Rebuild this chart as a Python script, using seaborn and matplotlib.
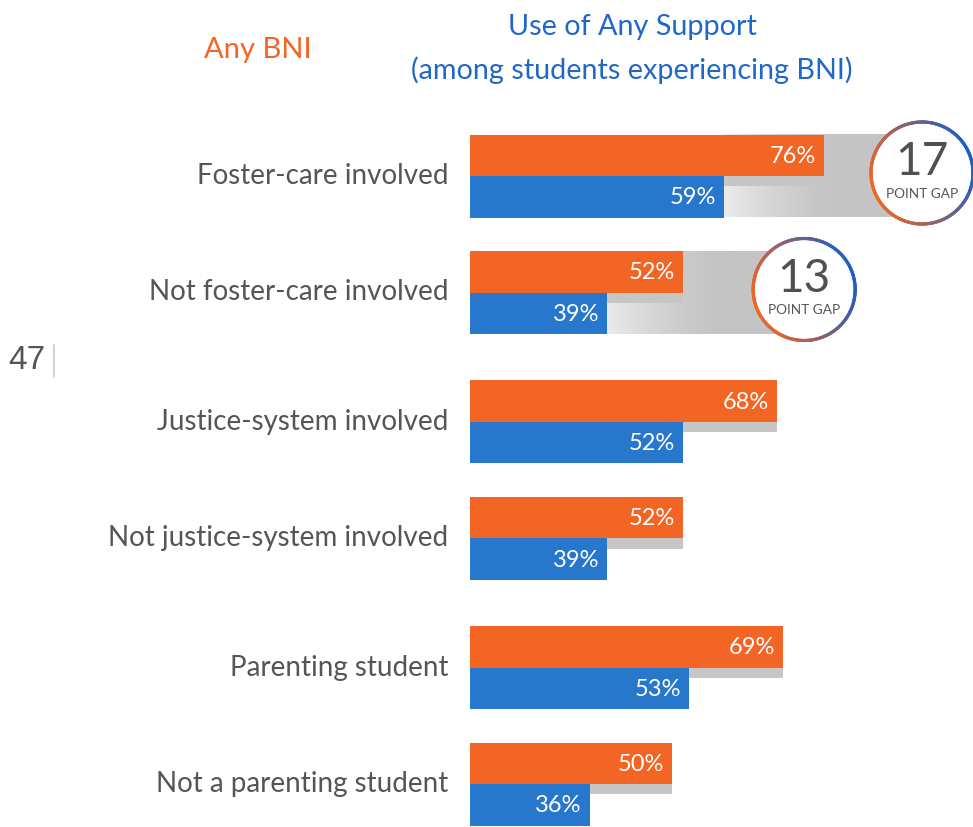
import numpy as np
import pandas as pd
import matplotlib
matplotlib.use("Agg")
import matplotlib.pyplot as plt
from matplotlib.collections import LineCollection
from matplotlib.colors import to_rgb
import seaborn as sns

# ---- data -------------------------------------------------------------
categories = [
    "Foster-care involved",
    "Not foster-care involved",
    "Justice-system involved",
    "Not justice-system involved",
    "Parenting student",
    "Not a parenting student",
]
any_bni = [76, 52, 68, 52, 69, 50]
any_support = [59, 39, 52, 39, 53, 36]
series_names = ["Any BNI", "Use of Any Support"]
gap_rows = [0, 1]

# ---- style / layout ---------------------------------------------------
ORANGE = "#f26524"
BLUE = "#2777cc"
TITLE_BLUE = "#1f68c9"
TEXT_GRAY = "#555555"
SHADOW_GRAY = "#c6c6c6"
BAND_LIGHT = np.array(to_rgb("#ebebeb"))
BAND_DARK = np.array(to_rgb("#c4c4c4"))

W, H = 973, 827
ROW_PX = 116.5                 # pixels per row unit
BAR_H = 41.5 / ROW_PX          # height of one bar in row units
SHADOW_SHIFT = 10.3 / ROW_PX   # drop of the grey shadow under orange bars
circle_x = [92.7, 72.6]        # callout centres (value axis)
CIRCLE_R = 51                  # px

sns.set_theme(style="white")
plt.rcParams["font.family"] = ["Lato", "DejaVu Sans"]

# rows come in pairs, with a little extra space between pairs
idx = np.arange(len(categories))
pos = idx + (idx // 2) * 0.11

df = pd.DataFrame({
    "pos": np.tile(pos, 2),
    "value": any_bni + any_support,
    "series": np.repeat(series_names, len(categories)),
})

fig = plt.figure(figsize=(W / 100, H / 100), dpi=100)
ax = fig.add_axes([470 / W, 0, 1 - 470 / W, 1])

x_lo, x_hi = 15.6, 101.4
top = -176 / ROW_PX
y_lo, y_hi = top + H / ROW_PX, top

# gradient band behind the rows that carry a gap callout
ramp = 115 / (W - 470) * (x_hi - x_lo)
for i, cx in zip(gap_rows, circle_x):
    x0 = any_support[i]
    xs = np.linspace(x0, cx, 300)
    t = np.clip((xs - x0) / ramp, 0, 1)
    t = 1 - (1 - t) ** 1.5
    cols = BAND_LIGHT[None, :] * (1 - t[:, None]) + BAND_DARK[None, :] * t[:, None]
    ax.imshow(cols[None, :, :], extent=(x0, cx, pos[i] + BAR_H, pos[i] - BAR_H),
              aspect="auto", interpolation="bilinear", zorder=0.5)

# shadow under orange bars
sns.barplot(x=any_bni, y=pos - BAR_H / 2 + SHADOW_SHIFT, orient="y",
            native_scale=True, width=BAR_H, color=SHADOW_GRAY, saturation=1,
            linewidth=0, errorbar=None, ax=ax, zorder=1)

# main paired bars
sns.barplot(data=df, x="value", y="pos", hue="series", hue_order=series_names,
            palette=[ORANGE, BLUE], orient="y", native_scale=True,
            width=2 * BAR_H, dodge=True, saturation=1, linewidth=0,
            errorbar=None, legend=False, ax=ax, zorder=2)

# value labels inside the bar ends
for i in idx:
    for v, yc in ((any_bni[i], pos[i] - BAR_H / 2), (any_support[i], pos[i] + BAR_H / 2)):
        ax.annotate(f"{v}%", xy=(v, yc), xytext=(-8, -1), textcoords="offset pixels",
                    ha="right", va="center", color="white", fontsize=17, zorder=5)

ax.set_xlim(x_lo, x_hi)
ax.set_ylim(y_lo, y_hi)
ax.set_yticks(pos, categories)
ax.set_xticks([])
ax.tick_params(axis="y", length=0, pad=15.8, labelsize=20, labelcolor=TEXT_GRAY)
for lab in ax.get_yticklabels():
    lab.set_verticalalignment("center")
ax.set_xlabel("")
ax.set_ylabel("")
for s in ax.spines.values():
    s.set_visible(False)
ax.patch.set_alpha(0)

# overlay in pixel coordinates for the gap callouts and page marker
ov = fig.add_axes([0, 0, 1, 1], zorder=10)
ov.set_xlim(0, W)
ov.set_ylim(0, H)
ov.axis("off")
ov.patch.set_alpha(0)

orange_rgb = np.array(to_rgb(ORANGE))
blue_rgb = np.array(to_rgb("#1f5fc4"))
for i, cx in zip(gap_rows, circle_x):
    px, py = ax.transData.transform((cx, pos[i]))
    py += 3
    ov.add_patch(plt.Circle((px, py), CIRCLE_R, facecolor="white", edgecolor="none", zorder=1))
    th = np.linspace(0, 2 * np.pi, 361)
    pts = np.column_stack([px + CIRCLE_R * np.cos(th), py + CIRCLE_R * np.sin(th)])
    segs = np.stack([pts[:-1], pts[1:]], axis=1)
    mid = (th[:-1] + th[1:]) / 2
    t = (1 + np.cos(mid - np.pi / 8)) / 2
    seg_cols = orange_rgb[None, :] * (1 - t[:, None]) + blue_rgb[None, :] * t[:, None]
    ov.add_collection(LineCollection(segs, colors=seg_cols, linewidths=2.3, zorder=2,
                                     capstyle="round"))
    gap = any_bni[i] - any_support[i]
    ov.text(px, py + 11, f"{gap}", ha="center", va="center", fontsize=33,
            color="#505050", zorder=3)
    ov.text(px, py - 21, "POINT GAP", ha="center", va="center", fontsize=9.8,
            color=TEXT_GRAY, zorder=3)

# headers
fig.text(258 / W, 1 - 50 / H, series_names[0], ha="center", va="center",
         fontsize=21, color=ORANGE)
fig.text(632 / W, 1 - 27 / H, series_names[1], ha="center", va="center",
         fontsize=20.7, color=TITLE_BLUE)
fig.text(632 / W, 1 - 70 / H, "(among students experiencing BNI)", ha="center",
         va="center", fontsize=20.7, color=TITLE_BLUE)

# page number
fig.text(8 / W, 1 - 360 / H, "47", ha="left", va="center", fontsize=24,
         color=TEXT_GRAY, family=["Liberation Sans", "DejaVu Sans"])
ov.plot([54, 54], [H - 345, H - 377], color="#cccccc", lw=1.2)

fig.savefig("out.png", dpi=100)
